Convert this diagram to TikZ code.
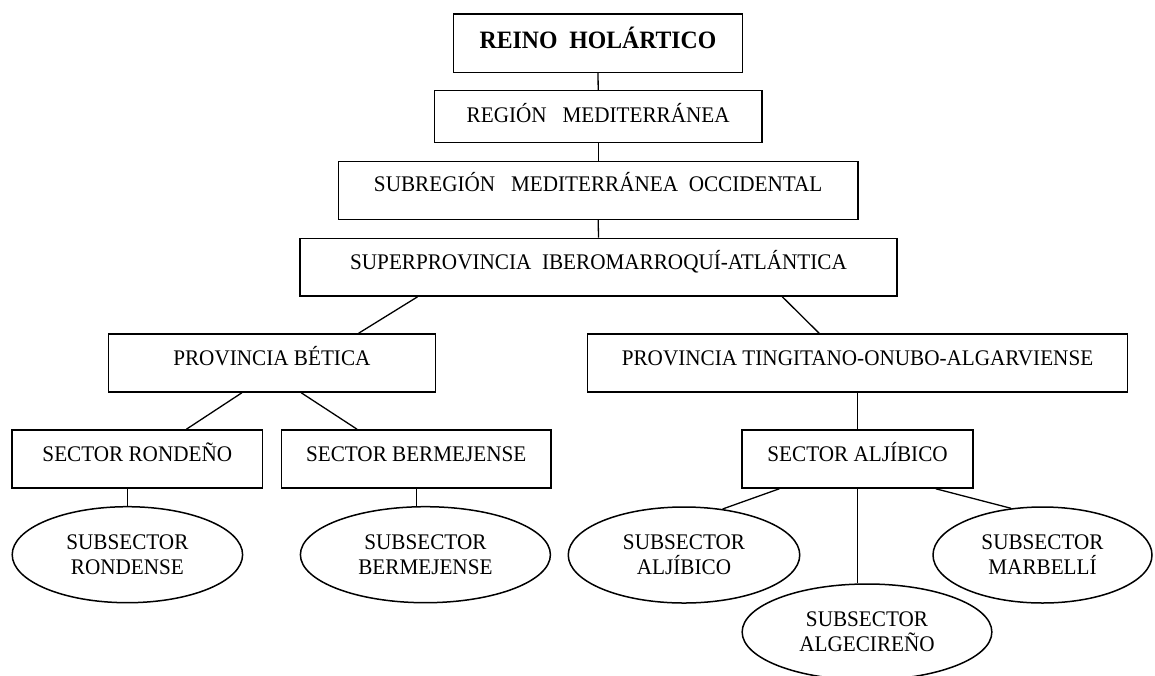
\documentclass[tikz,border=0pt]{standalone}
\usepackage{fontspec}
\setmainfont{Liberation Serif}[FakeStretch=0.95]
\usetikzlibrary{shapes.geometric}
\begin{document}
\begin{tikzpicture}[x=1pt,y=-1pt,
  box/.style={draw, line width=1.5pt, rectangle, inner sep=0pt,
    text height=31.7pt, text depth=26.3pt, font=\fontsize{22.3}{25}\selectfont},
  oval/.style={draw, line width=1.5pt, ellipse, inner sep=0pt,
    minimum height=96pt, align=center, font=\fontsize{22.3}{25}\selectfont},
  link/.style={line width=1.3pt}]
\useasboundingbox (0,0) rectangle (1155,675);
% boxes
\node[box, minimum width=289.4pt, text height=34.3pt, text depth=24pt,
  font=\fontsize{25}{28}\selectfont\bfseries] (reino) at (598,43.15) {REINO\ \ HOLÁRTICO};
\node[box, minimum width=327.7pt, text height=32pt, text depth=20pt] (region) at (598.2,116.7) {REGIÓN\ \ \ MEDITERRÁNEA};
\node[box, minimum width=519.7pt, text height=30pt, text depth=27.6pt] (subregion) at (598.2,190.5) {SUBREGIÓN\ \ \ MEDITERRÁNEA\ \ OCCIDENTAL};
\node[box, minimum width=597pt, text height=30.7pt, text depth=27pt] (superprov) at (598.5,267.15) {SUPERPROVINCIA\ \ IBEROMARROQUÍ-ATLÁNTICA};
\node[box, minimum width=327.2pt] (betica) at (271.9,363) {PROVINCIA BÉTICA};
\node[box, minimum width=539.7pt] (tingitano) at (857.55,363) {PROVINCIA TINGITANO-ONUBO-ALGARVIENSE};
\node[box, minimum width=250.3pt] (rondeno) at (137.35,459) {SECTOR RONDEÑO};
\node[box, minimum width=269.8pt] (bermejense) at (416.2,459) {SECTOR BERMEJENSE};
\node[box, minimum width=230.7pt] (sectoralj) at (857.55,459) {SECTOR ALJÍBICO};
% ellipses
\node[oval, minimum width=230.4pt] (rondense) at (127.4,554.7) {SUBSECTOR\\RONDENSE};
\node[oval, minimum width=250pt] (subberm) at (425.4,554.7) {SUBSECTOR\\BERMEJENSE};
\node[oval, minimum width=231.5pt] (aljibico) at (684,555) {SUBSECTOR\\ALJÍBICO};
\node[oval, minimum width=219pt] (marbelli) at (1042.5,555) {SUBSECTOR\\MARBELLÍ};
\node[oval, minimum width=249.7pt] (algecireno) at (867,632) {SUBSECTOR\\ALGECIREÑO};
% connectors
\draw[link] (reino.south) -- (region.north);
\draw[link] (region.south) -- (subregion.north);
\draw[link] (subregion.south) -- (superprov.north);
\draw[link] ([xshift=-180.9pt]superprov.south) -- ([xshift=86.7pt]betica.north);
\draw[link] ([xshift=183.8pt]superprov.south) -- ([xshift=-38.4pt]tingitano.north);
\draw[link] ([xshift=-30pt]betica.south) -- ([xshift=49pt]rondeno.north);
\draw[link] ([xshift=29.3pt]betica.south) -- ([xshift=-59.1pt]bermejense.north);
\draw[link] (tingitano.south) -- (sectoralj.north);
\draw[link] (rondense.north) -- (rondense.north |- rondeno.south);
\draw[link] (bermejense.south) -- (bermejense.south |- subberm.north);
\draw[link] ([xshift=-78.2pt]sectoralj.south) -- (aljibico.50);
\draw[link] ([xshift=78.2pt]sectoralj.south) -- (marbelli.124);
\draw[link] (sectoralj.south) -- (sectoralj.south |- algecireno.north);
\end{tikzpicture}
\end{document}
